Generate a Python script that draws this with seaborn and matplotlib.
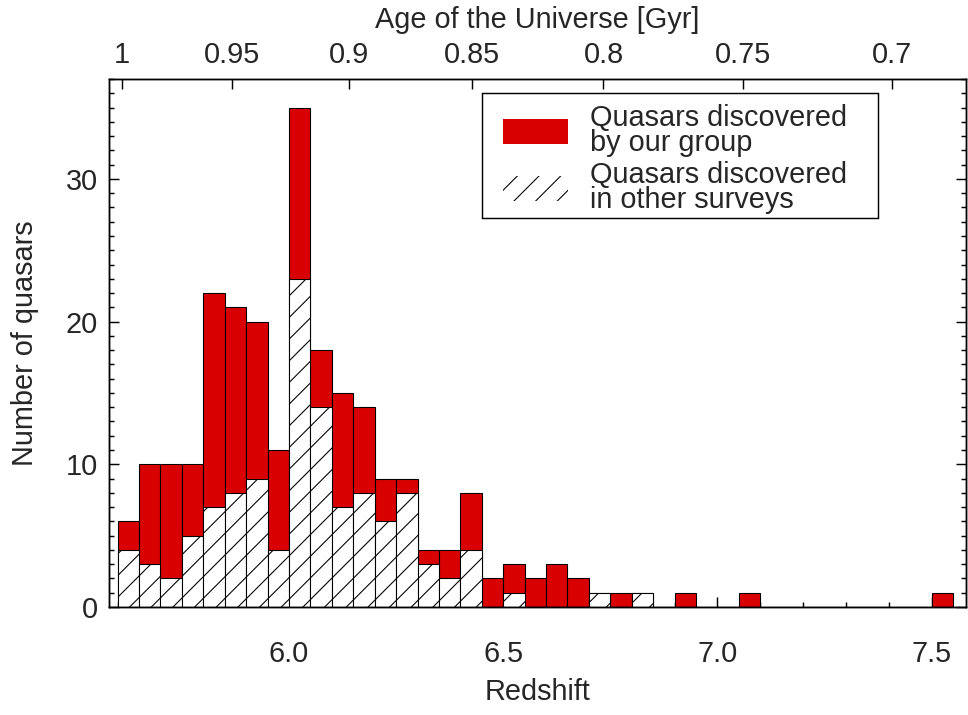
import numpy as np
import pandas as pd
import matplotlib
matplotlib.use("Agg")
import matplotlib.pyplot as plt
from matplotlib.patches import Patch, Rectangle
from matplotlib.ticker import MultipleLocator, FixedLocator, NullLocator, FormatStrFormatter
import seaborn as sns

# Redshift bins (width 0.05) starting at z = 5.60
bin_width = 0.05
bin_start = 5.60
# Number of quasars per bin: all known quasars
total_counts = [6, 10, 10, 10, 22, 21, 20, 11, 35, 18, 15, 14, 9, 9, 4, 4, 8,
                2, 3, 2, 3, 2, 1, 1, 1, 0, 1, 0, 0, 1,
                0, 0, 0, 0, 0, 0, 0, 0, 1]
# Number of quasars per bin found in other surveys
other_counts = [4, 3, 2, 5, 7, 8, 9, 4, 23, 14, 7, 8, 6, 8, 3, 2, 4,
                0, 1, 0, 0, 0, 1, 0, 1, 0, 0, 0, 0, 0,
                0, 0, 0, 0, 0, 0, 0, 0, 0]

# Age of the Universe tick labels and the redshift at which each one sits
age_labels = ["1", "0.95", "0.9", "0.85", "0.8", "0.75", "0.7"]
age_tick_z = [5.610, 5.868, 6.140, 6.428, 6.734, 7.059, 7.407]

label_ours = "Quasars discovered\nby our group"
label_other = "Quasars discovered\nin other surveys"

n_bins = len(total_counts)
edges = [round(bin_start + bin_width * k, 4) for k in range(n_bins + 1)]
centers = [0.5 * (edges[k] + edges[k + 1]) for k in range(n_bins)]
df = pd.DataFrame({"z": centers, "total": total_counts, "other": other_counts})

RED = "#d80000"
TXT = "#262626"
DPI = 130

sns.set_style("ticks")
plt.rcParams["font.family"] = ["Liberation Sans", "DejaVu Sans"]
plt.rcParams["hatch.linewidth"] = 0.6
plt.rcParams["text.color"] = TXT
plt.rcParams["axes.labelcolor"] = TXT
plt.rcParams["xtick.color"] = TXT
plt.rcParams["ytick.color"] = TXT

FS = 16

W, H = 968, 715
ax_left, ax_right, ax_top, ax_bottom = 109, 966, 79, 607
fig = plt.figure(figsize=(W / DPI, H / DPI), dpi=DPI)
ax = fig.add_axes([ax_left / W, 1 - ax_bottom / H,
                   (ax_right - ax_left) / W, (ax_bottom - ax_top) / H])

sns.histplot(data=df, x="z", weights="total", bins=edges, ax=ax,
             facecolor=RED, edgecolor="black", linewidth=0.6, alpha=1.0)
sns.histplot(data=df, x="z", weights="other", bins=edges, ax=ax,
             facecolor="white", edgecolor="black", linewidth=0.6,
             hatch="//", alpha=1.0)

ax.set_xlim(5.58, 7.58)
ax.set_ylim(0, 37)

ax.xaxis.set_major_locator(MultipleLocator(0.5))
ax.xaxis.set_minor_locator(MultipleLocator(0.1))
ax.yaxis.set_major_locator(MultipleLocator(10))
ax.yaxis.set_minor_locator(MultipleLocator(1))
ax.xaxis.set_major_formatter(FormatStrFormatter("%.1f"))

ax.tick_params(axis="both", which="both", direction="in", top=False, right=True,
               labelsize=FS, width=0.8, color="black")
ax.tick_params(axis="x", which="major", length=5.5, pad=18)
ax.tick_params(axis="x", which="minor", length=2.8)
ax.tick_params(axis="y", which="major", length=5.5, pad=6)
ax.tick_params(axis="y", which="minor", length=3.0)

for s in ax.spines.values():
    s.set_visible(True)
    s.set_linewidth(0.8)
    s.set_color("black")

ax.set_xlabel("Redshift", fontsize=FS, labelpad=6)
ax.set_ylabel("Number of quasars", fontsize=FS, labelpad=15)

# Age of the Universe along the top
ax2 = ax.twiny()
ax2.set_xlim(ax.get_xlim())
ax2.xaxis.set_major_locator(FixedLocator(age_tick_z))
ax2.xaxis.set_minor_locator(NullLocator())
ax2.set_xticklabels(age_labels)
ax2.tick_params(axis="x", which="major", direction="in", length=5.5, width=0.8,
                labelsize=FS, pad=5.5, color="black")
ax2.set_xlabel("Age of the Universe [Gyr]", fontsize=FS, labelpad=7.5)
for s in ax2.spines.values():
    s.set_linewidth(0.8)
    s.set_color("black")


def axes_frac(px, py):
    """Pixel position in the figure -> axes fraction of the main axes."""
    return ((px - ax_left) / (ax_right - ax_left),
            (ax_bottom - py) / (ax_bottom - ax_top))


# Legend box outline
x0, y0 = axes_frac(482, 218)
x1, y1 = axes_frac(878, 93)
ax.add_patch(Rectangle((x0, y0), x1 - x0, y1 - y0, transform=ax.transAxes,
                       facecolor="white", edgecolor="black", linewidth=0.8,
                       zorder=4))

handles = [Patch(facecolor=RED, edgecolor="none", linewidth=0),
           Patch(facecolor="white", edgecolor="black", hatch="//", linewidth=0)]
leg = ax.legend(handles, [label_ours, label_other], loc="upper left",
                bbox_to_anchor=axes_frac(503, 104), borderaxespad=0,
                fontsize=FS, frameon=False, handlelength=2.25,
                handleheight=0.97, handletextpad=0.76, borderpad=0,
                labelspacing=0.15)
leg.set_zorder(5)
for t in leg.get_texts():
    t.set_linespacing(0.85)

fig.savefig("out.png", dpi=DPI)
